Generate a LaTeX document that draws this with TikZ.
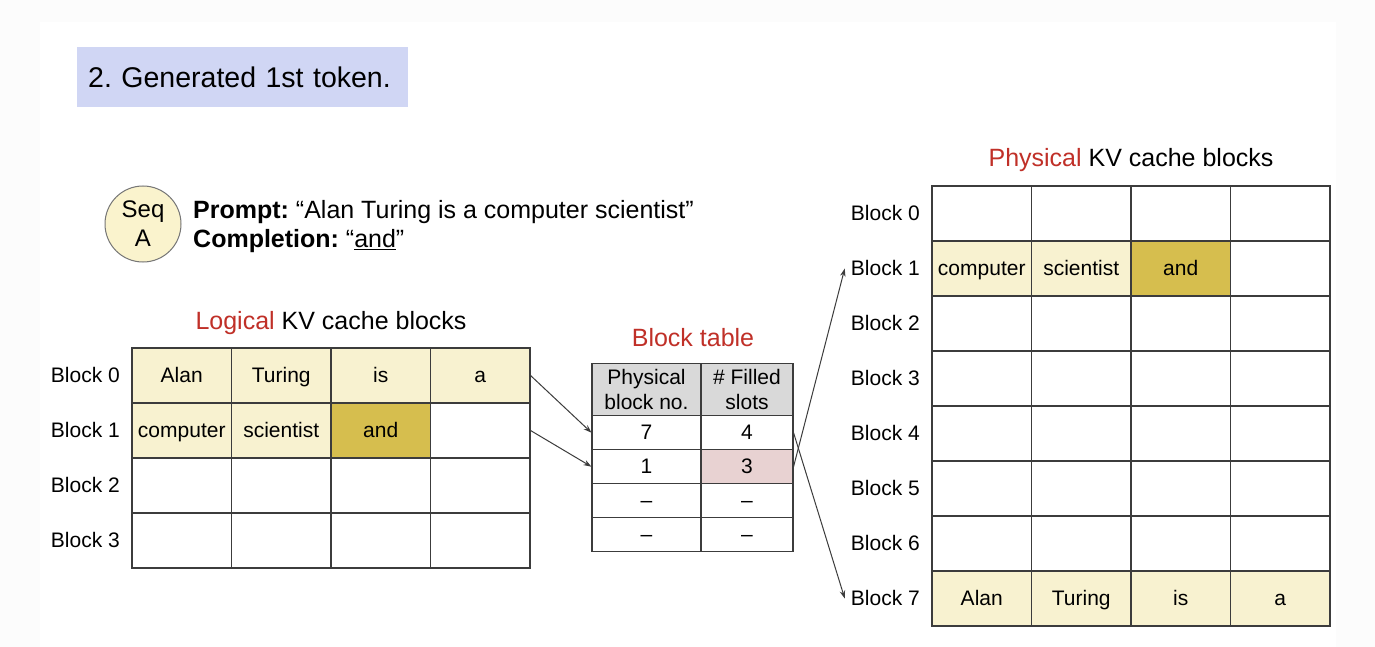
\documentclass[tikz,border=0pt]{standalone}
\usepackage{fontspec}
\setmainfont{Liberation Sans}
\usetikzlibrary{arrows.meta, positioning}
\frenchspacing

\definecolor{PageBg}    {RGB}{252,252,252}
\definecolor{TitleBg}   {RGB}{208,214,244}
\definecolor{SeqBg}     {RGB}{250,243,205}
\definecolor{TokenBg}   {RGB}{248,242,208}
\definecolor{NewTokenBg}{RGB}{214,190, 78}
\definecolor{HeadBg}    {RGB}{217,217,217}
\definecolor{SlotsBg}   {RGB}{232,210,210}
\definecolor{LabelRed}  {RGB}{192, 48, 40}
\definecolor{GridGray}  {RGB}{ 60, 60, 60}

\tikzset{
  % one token slot of a KV cache block
  slot/.style={
    rectangle, draw=GridGray, line width=1.1pt,
    minimum width=99.5pt, minimum height=55pt, inner sep=0pt,
    font=\fontsize{21}{25}\selectfont, text height=15pt, text depth=2pt
  },
  % "Block n" row label
  rowlabel/.style={
    anchor=east, inner xsep=6pt, inner ysep=0pt,
    font=\fontsize{21}{25}\selectfont, text height=15pt, text depth=2pt
  },
  % block table cell
  tabcell/.style={
    rectangle, draw=GridGray, line width=1.1pt, inner sep=0pt,
    minimum height=34pt, font=\fontsize{21}{25}\selectfont,
    text height=15pt, text depth=2pt
  },
  % block table header cell
  headcell/.style={
    rectangle, draw=GridGray, fill=HeadBg, line width=1.1pt, inner sep=0pt,
    minimum height=52.4pt, align=center, font=\fontsize{21}{25.5}\selectfont
  },
  % table title
  tabtitle/.style={anchor=base, inner sep=0pt, font=\fontsize{25}{30}\selectfont},
  % mapping arrow
  maparrow/.style={
    -{Stealth[length=8pt, width=5.5pt]}, line width=1pt, color=GridGray
  }
}

\begin{document}
\begin{tikzpicture}[x=1pt, y=-1pt]

  \useasboundingbox (0,0) rectangle (1375,647);
  \fill[PageBg] (0,0) rectangle (1375,647);
  \fill[white] (40,22) rectangle (1336,647);

  % -- Title ------------------------------------------------------------
  \node[fill=TitleBg, anchor=north west, minimum height=60pt,
        text width=309pt, inner xsep=11pt, align=left,
        font=\fontsize{28.5}{34}\selectfont] (title) at (77,47)
        {2. Generated 1st token.};

  % -- Sequence ---------------------------------------------------------
  \node[circle, draw=GridGray!70, fill=SeqBg, line width=1pt,
        minimum size=76pt, inner sep=0pt, align=center,
        font=\fontsize{24}{29}\selectfont] (seq) at (143,224) {Seq\\A};
  \node[anchor=west, align=left, inner sep=0pt,
        font=\fontsize{25}{29}\selectfont] (prompt) at (193,227)
        {\textbf{Prompt:} “Alan Turing is a computer scientist”\\
         \textbf{Completion:} “\underline{and}”};

  % -- Logical KV cache blocks -----------------------------------------
  \node[tabtitle] (lgtitle) at (331,329)
        {\textcolor{LabelRed}{Logical} KV cache blocks};
  \foreach \r in {0,...,3}
    \node[rowlabel] (lg\r) at (126,{375.5+55*\r}) {Block \r};
  \foreach \w [count=\c from 0] in {Alan, Turing, is, a}
    \node[slot, fill=TokenBg] (lg-0-\c) at ({181.75+99.5*\c},375.5) {\w};
  \foreach \w/\f [count=\c from 0] in {computer/TokenBg, scientist/TokenBg, and/NewTokenBg, /white}
    \node[slot, fill=\f] (lg-1-\c) at ({181.75+99.5*\c},430.5) {\w};
  \foreach \r in {2,3}
    \foreach \c in {0,...,3}
      \node[slot] (lg-\r-\c) at ({181.75+99.5*\c},{375.5+55*\r}) {};

  % -- Block table ------------------------------------------------------
  \node[tabtitle] (bttitle) at (693,346) {\textcolor{LabelRed}{Block table}};
  \node[headcell, minimum width=109pt] (bt-h-0) at (646.5,389.5) {Physical\\block no.};
  \node[headcell, minimum width=92pt]  (bt-h-1) at (747,389.5)   {\# Filled\\slots};
  \foreach \p/\n/\f [count=\r from 0] in {7/4/white, 1/3/SlotsBg, --/--/white, --/--/white} {
    \node[tabcell, minimum width=109pt] (bt-\r-0) at (646.5,{432.7+34*\r}) {\p};
    \node[tabcell, minimum width=92pt, fill=\f] (bt-\r-1) at (747,{432.7+34*\r}) {\n};
  }

  % -- Physical KV cache blocks ----------------------------------------
  \node[tabtitle] (phtitle) at (1131,167)
        {\textcolor{LabelRed}{Physical} KV cache blocks};
  \foreach \r in {0,...,7}
    \node[rowlabel] (ph\r) at (926,{213.5+55*\r}) {Block \r};
  \foreach \r in {0,2,3,4,5,6}
    \foreach \c in {0,...,3}
      \node[slot] (ph-\r-\c) at ({981.75+99.5*\c},{213.5+55*\r}) {};
  \foreach \w/\f [count=\c from 0] in {computer/TokenBg, scientist/TokenBg, and/NewTokenBg, /white}
    \node[slot, fill=\f] (ph-1-\c) at ({981.75+99.5*\c},268.5) {\w};
  \foreach \w [count=\c from 0] in {Alan, Turing, is, a}
    \node[slot, fill=TokenBg] (ph-7-\c) at ({981.75+99.5*\c},598.5) {\w};

  % -- Mappings ---------------------------------------------------------
  \draw[maparrow] (lg-0-3.east) -- (bt-0-0.west);
  \draw[maparrow] (lg-1-3.east) -- (bt-1-0.west);
  \draw[maparrow] (bt-0-1.east) -- (ph7.west);
  \draw[maparrow] (bt-1-1.east) -- (ph1.west);

\end{tikzpicture}
\end{document}
